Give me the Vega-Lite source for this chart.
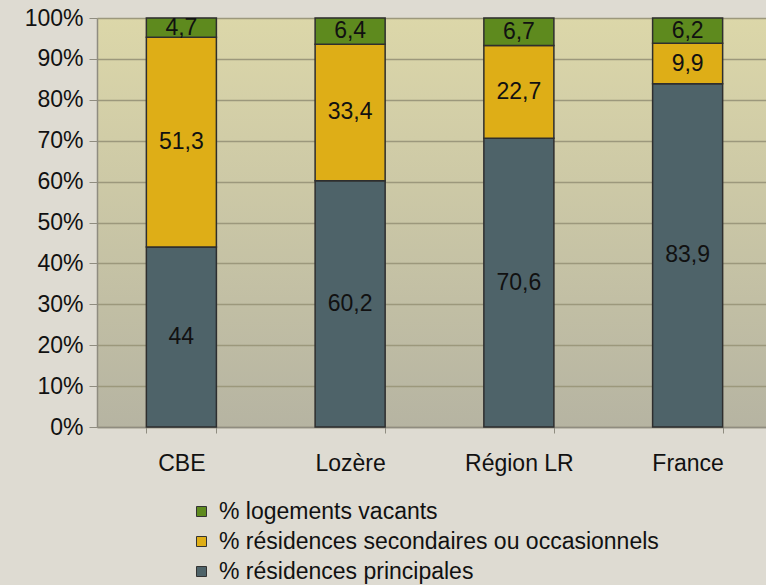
{
  "$schema": "https://vega.github.io/schema/vega-lite/v6.json",
  "width": 669,
  "height": 409,
  "autosize": "none",
  "padding": {"left": 97, "top": 18, "right": 0, "bottom": 158},
  "background": "#dedbd2",
  "view": {
    "fill": {"gradient": "linear", "x1": 0, "y1": 0, "x2": 0, "y2": 1,
      "stops": [{"offset": 0, "color": "#dcd7a9"}, {"offset": 1, "color": "#b6b4a2"}]},
    "stroke": null
  },
  "config": {
    "font": "Liberation Sans",
    "locale": {"number": {"decimal": ",", "thousands": " ", "grouping": [3], "currency": ["", " €"]}}
  },
  "data": {"values": [
    {"zone": "CBE", "type": "% résidences principales", "k": 1, "pct": 44},
    {"zone": "CBE", "type": "% résidences secondaires ou occasionnels", "k": 2, "pct": 51.3},
    {"zone": "CBE", "type": "% logements vacants", "k": 3, "pct": 4.7},
    {"zone": "Lozère", "type": "% résidences principales", "k": 1, "pct": 60.2},
    {"zone": "Lozère", "type": "% résidences secondaires ou occasionnels", "k": 2, "pct": 33.4},
    {"zone": "Lozère", "type": "% logements vacants", "k": 3, "pct": 6.4},
    {"zone": "Région LR", "type": "% résidences principales", "k": 1, "pct": 70.6},
    {"zone": "Région LR", "type": "% résidences secondaires ou occasionnels", "k": 2, "pct": 22.7},
    {"zone": "Région LR", "type": "% logements vacants", "k": 3, "pct": 6.7},
    {"zone": "France", "type": "% résidences principales", "k": 1, "pct": 83.9},
    {"zone": "France", "type": "% résidences secondaires ou occasionnels", "k": 2, "pct": 9.9},
    {"zone": "France", "type": "% logements vacants", "k": 3, "pct": 6.2}
  ]},
  "encoding": {
    "x": {
      "field": "zone", "type": "nominal", "sort": null,
      "scale": {"range": [0, 675], "paddingInner": 0.585, "paddingOuter": 0.2925},
      "axis": {"title": null, "labelAngle": 0, "labelFontSize": 23, "labelColor": "#111111",
        "labelPadding": 19, "domainColor": "#8f8c80", "domainWidth": 1.5,
        "tickColor": "#8f8c80", "tickSize": 6, "tickBand": "extent", "grid": false}
    },
    "y": {
      "field": "pct", "type": "quantitative", "stack": "zero",
      "scale": {"domain": [0, 100], "nice": false},
      "axis": {"title": null, "values": [0,10,20,30,40,50,60,70,80,90,100],
        "labelExpr": "datum.value + '%'", "labelFontSize": 23, "labelColor": "#111111",
        "labelPadding": 6, "tickSize": 8, "tickColor": "#8f8c80", "domainColor": "#8f8c80",
        "domainWidth": 1.5, "gridColor": "#9c987c", "gridWidth": 1.5, "gridOpacity": 1}
    },
    "order": {"field": "k", "type": "quantitative"}
  },
  "layer": [
    {
      "mark": {"type": "bar", "stroke": "#2e2e2e", "strokeWidth": 1.5},
      "encoding": {
        "color": {
          "field": "type", "type": "nominal",
          "scale": {
            "domain": ["% logements vacants", "% résidences secondaires ou occasionnels", "% résidences principales"],
            "range": ["#5e8a1e", "#deae17", "#4e6369"]
          },
          "legend": {"title": null, "orient": "none", "legendX": 93, "legendY": 482,
            "symbolType": "square", "symbolSize": 100, "symbolStrokeColor": "#333333",
            "symbolStrokeWidth": 1, "symbolOpacity": 1, "labelFontSize": 23, "labelColor": "#111111",
            "labelLimit": 600, "rowPadding": 6, "labelOffset": 6}
        }
      }
    },
    {
      "mark": {"type": "text", "fontSize": 23, "color": "#111111", "baseline": "middle"},
      "encoding": {
        "y": {"field": "pct", "type": "quantitative", "stack": "zero", "bandPosition": 0.5},
        "text": {"field": "pct", "type": "quantitative", "format": ".1~f"}
      }
    }
  ]
}
